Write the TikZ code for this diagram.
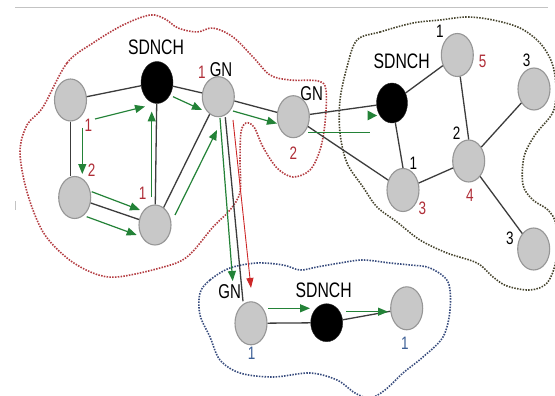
\documentclass[tikz,border=0pt]{standalone}
\usepackage{graphicx}
\usepackage{fontspec}
\setmainfont{Liberation Sans}
\usetikzlibrary{shapes.geometric,arrows.meta}
\definecolor{nodegray}{RGB}{200,200,200}
\definecolor{nodeborder}{RGB}{150,150,150}
\definecolor{edgecol}{RGB}{60,60,60}
\definecolor{arrgreen}{RGB}{35,130,55}
\definecolor{arrred}{RGB}{205,40,40}
\definecolor{lblred}{RGB}{175,45,55}
\definecolor{lblblue}{RGB}{60,95,150}
\definecolor{blobred}{RGB}{180,60,65}
\definecolor{blobolive}{RGB}{70,68,45}
\definecolor{blobblue}{RGB}{55,75,125}
\definecolor{framegray}{RGB}{195,195,195}
\newcommand{\sqz}[2]{\scalebox{0.75}[1]{\fontsize{#1}{#1}\selectfont #2}}
\begin{document}
\begin{tikzpicture}[x=1pt,y=-1pt,
  gnode/.style={ellipse, draw=nodeborder, line width=1.1pt, fill=nodegray, minimum width=32pt, minimum height=42pt, inner sep=0pt},
  bnode/.style={ellipse, draw=black!85, fill=black, minimum width=32pt, minimum height=40pt, inner sep=0pt},
  link/.style={draw=edgecol, line width=1.3pt},
  garrow/.style={draw=arrgreen, line width=1.2pt, -{Triangle[length=10pt,width=8pt]}},
  rarrow/.style={draw=arrred, line width=0.9pt, -{Triangle[length=10pt,width=7pt]}},
  lbl/.style={inner sep=0pt},
  blob/.style={line width=1.6pt, dash pattern=on 1.5pt off 1.3pt}]
\useasboundingbox (0,0) rectangle (555,396);
\clip (0,0) rectangle (555,396);
\fill[white] (0,0) rectangle (555,396);
% frame artefacts
\draw[framegray, line width=1pt] (15,8) coordinate (fa) -- (548,8) coordinate (fb);
\draw[framegray, line width=1pt] (15.5,201) coordinate (ta) -- (15.5,210) coordinate (tb);
% regions
\draw[blob, blobred] plot[smooth cycle, tension=0.55] coordinates {
 (43,107) (67,63) (93,43) (123,25) (150,15) (165,19) (178,28) (197,32) (213,28) (233,37)
 (253,57) (270,75) (290,80) (318,81) (326,90) (325,123) (320,150) (310,170) (293,177)
 (277,168) (263,147) (254,127) (246,123) (241,132) (240,160) (240,192) (230,210) (213,227)
 (187,257) (160,268) (117,277) (93,273) (67,258) (43,232) (27,192) (20,152) (27,125)};
\draw[blob, blobolive] plot[smooth cycle, tension=0.55] coordinates {
 (357,40) (380,32) (413,23) (440,20) (467,17) (493,20) (520,28) (540,43) (552,63) (556,87)
 (553,112) (535,135) (524,157) (523,185) (533,200) (548,210) (556,225) (556,260) (547,283)
 (530,290) (507,286) (493,277) (477,263) (447,253) (420,240) (397,222) (377,207) (363,187)
 (347,163) (340,133) (340,100) (347,67)};
\draw[blob, blobblue] plot[smooth cycle, tension=0.55] coordinates {
 (200,293) (210,280) (230,268) (257,263) (283,265) (300,270) (317,267) (340,263) (363,260)
 (390,263) (410,265) (430,268) (448,282) (450,310) (443,337) (423,357) (403,373) (385,390)
 (370,398) (355,393) (337,380) (310,373) (273,377) (240,373) (220,360) (210,337) (200,315)};
% nodes
\node[gnode] (A) at (70.5,100) {};
\node[bnode, minimum height=42pt] (SD1) at (157,82.5) {};
\node[gnode, minimum height=40pt] (GN1) at (218.3,96.7) {};
\node[gnode] (GN2) at (293.3,116.7) {};
\node[gnode] (B) at (74.7,197.5) {};
\node[gnode, minimum height=40pt] (C) at (155,225) {};
\node[bnode, minimum width=31pt, minimum height=40pt] (SD2) at (392,103) {};
\node[gnode, minimum height=43pt] (N15) at (457.3,55) {};
\node[gnode] (N3a) at (534,89) {};
\node[gnode] (N24) at (468.7,161) {};
\node[gnode, minimum height=43pt] (N13) at (403,190) {};
\node[gnode] (N3b) at (533.7,249) {};
\node[gnode, minimum height=43pt] (GNb) at (251,323.3) {};
\node[bnode, minimum height=38pt] (SDb) at (326.7,322.7) {};
\node[gnode, minimum height=43pt] (Rb) at (406.7,308.3) {};
% links
\draw[link] (A) -- (SD1);
\draw[link] (A.south) -- (A.south |- B.north);
\draw[link] (SD1) -- (C);
\draw[link] (SD1) -- (GN1);
\draw[link] (B) -- (C);
\draw[link] (C) -- (GN1);
\draw[link] (GN1) -- (GN2);
\draw[link] ([xshift=7pt]GN1.south) -- ([xshift=-8pt]GNb.north);
\draw[link] (GN2) -- (SD2);
\draw[link] (GN2) -- (N13);
\draw[link] (SD2) -- (N15);
\draw[link] (SD2) -- (N13.north);
\draw[link] (N13) -- (N24);
\draw[link] (N15) -- (N24.north);
\draw[link] (N24) -- (N3a);
\draw[link] (N24) -- (N3b);
\draw[link] (GNb) -- (SDb);
\draw[link] (SDb) -- (Rb);
% arrow end points
\coordinate (g1a) at (95,119);     \coordinate (g1b) at (145,106.5);
\coordinate (g2a) at (82.3,128);   \coordinate (g2b) at (82.3,174);
\coordinate (g3a) at (91.7,191.7); \coordinate (g3b) at (140,210);
\coordinate (g4a) at (86.7,216.7); \coordinate (g4b) at (136.7,235);
\coordinate (g5a) at (151.7,197);  \coordinate (g5b) at (151.7,111.5);
\coordinate (g6a) at (173,96.7);   \coordinate (g6b) at (202,110);
\coordinate (g7a) at (175,215);    \coordinate (g7b) at (217,130);
\coordinate (g8a) at (233,111);    \coordinate (g8b) at (277,123.5);
\coordinate (g9a) at (220,118);    \coordinate (g9b) at (232.7,281);
\coordinate (r1a) at (233,120);    \coordinate (r1b) at (251,288);
\coordinate (g10a) at (308,132.7); \coordinate (g10b) at (370,132.7);
\coordinate (g11a) at (268,308.3); \coordinate (g11b) at (310,308.3);
\coordinate (g12a) at (346,311.7); \coordinate (g12b) at (388,311.7);
\draw[garrow] (g1a) -- (g1b);
\draw[garrow] (g2a) -- (g2b);
\draw[garrow] (g3a) -- (g3b);
\draw[garrow] (g4a) -- (g4b);
\draw[garrow] (g5a) -- (g5b);
\draw[garrow] (g6a) -- (g6b);
\draw[garrow] (g7a) -- (g7b);
\draw[garrow] (g8a) -- (g8b);
\draw[garrow] (g9a) -- (g9b);
\draw[rarrow] (r1a) -- (r1b);
\draw[draw=arrgreen, line width=1.2pt] (g10a) -- (g10b);
\fill[arrgreen] (367.5,110.5) -- (377,115.5) -- (367.5,120.5) -- cycle;
\draw[garrow] (g11a) -- (g11b);
\draw[garrow] (g12a) -- (g12b);
% labels
\node[lbl] (tSD1) at (156,47.5) {\sqz{21}{SDNCH}};
\node[lbl] (tSD2) at (401.7,61.7) {\sqz{21}{SDNCH}};
\node[lbl] (tSDb) at (323.7,290) {\sqz{21}{SDNCH}};
\node[lbl] (tGN1) at (221,70) {\sqz{20}{GN}};
\node[lbl] (tGN2) at (311.7,93.3) {\sqz{20}{GN}};
\node[lbl] (tGNb) at (229.7,291.7) {\sqz{20}{GN}};
\node[lbl, text=lblred] (r1) at (202,72) {\sqz{18}{1}};
\node[lbl, text=lblred] (r2) at (293.3,153) {\sqz{18}{2}};
\node[lbl, text=lblred] (r3) at (88.3,125) {\sqz{18}{1}};
\node[lbl, text=lblred] (r4) at (91.7,170) {\sqz{18}{2}};
\node[lbl, text=lblred] (r5) at (142.7,193.3) {\sqz{18}{1}};
\node[lbl, text=lblred] (r6) at (482.7,61.7) {\sqz{18}{5}};
\node[lbl, text=lblred] (r7) at (470,195) {\sqz{18}{4}};
\node[lbl, text=lblred] (r8) at (422.5,208.3) {\sqz{18}{3}};
\node[lbl] (k1) at (440,31.7) {\sqz{18}{1}};
\node[lbl] (k2) at (526.7,60) {\sqz{18}{3}};
\node[lbl] (k3) at (456.7,133.3) {\sqz{18}{2}};
\node[lbl] (k4) at (413.3,163.3) {\sqz{18}{1}};
\node[lbl] (k5) at (510,238.3) {\sqz{18}{3}};
\node[lbl, text=lblblue] (b1) at (251.7,353) {\sqz{18}{1}};
\node[lbl, text=lblblue] (b2) at (405,343) {\sqz{18}{1}};
\end{tikzpicture}
\end{document}
